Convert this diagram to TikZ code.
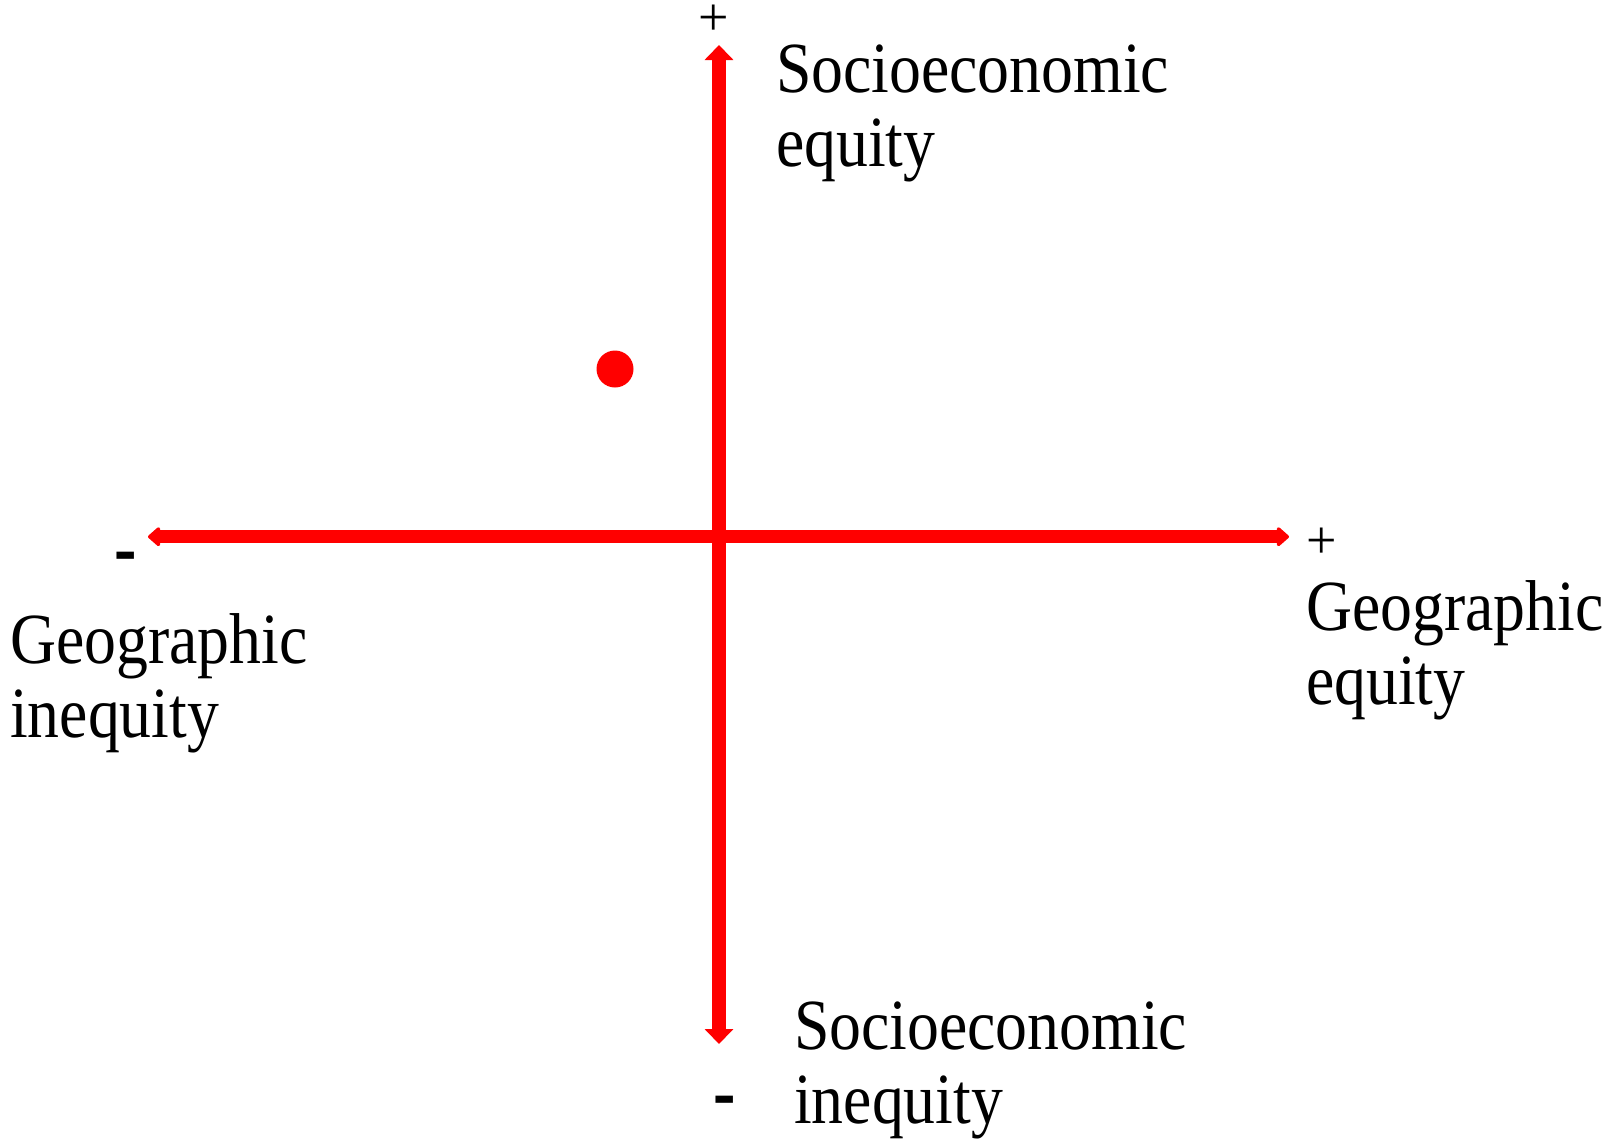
\documentclass[tikz,border=0pt]{standalone}
\usepackage{fontspec}
\setmainfont{Liberation Serif}
\newfontfamily\labelfont[FakeStretch=0.885]{Liberation Serif}
\newfontfamily\dashfont[FakeStretch=0.8]{Liberation Serif}
\usetikzlibrary{arrows.meta}
\begin{document}
\begin{tikzpicture}[x=1pt,y=-1pt,
  axis/.style={draw=red, line width=13.4pt},
  lab/.style={font=\labelfont\fontsize{72}{74}\selectfont, align=left, inner sep=0pt, anchor=base west},
  plussign/.style={font=\fontsize{54}{54}\selectfont, inner sep=0pt},
  minussign/.style={font=\dashfont\bfseries\fontsize{84}{84}\selectfont, inner sep=0pt}]
\useasboundingbox (0,0) rectangle (1614,1138);
% axis end points
\coordinate (L) at (148,536.7);
\coordinate (R) at (1289,536.7);
\coordinate (T) at (719,45);
\coordinate (B) at (719,1044);
\draw[axis, {Triangle[width=22pt,length=13pt,round]}-{Triangle[width=22pt,length=13pt,round]}] (L) -- (R);
\draw[axis, {Triangle[width=28pt,length=15pt]}-{Triangle[width=28pt,length=15pt]}] (B) -- (T);
% point
\node[circle, fill=red, minimum size=37pt, inner sep=0pt] (dot) at (615,369) {};
% labels (anchor = baseline of the last line)
\node[lab] (top) at (776,166) {Socioeconomic\\equity};
\node[lab] (left) at (10,737) {Geographic\\inequity};
\node[lab] (right) at (1306,704) {Geographic\\equity};
\node[lab] (bottom) at (794,1123) {Socioeconomic\\inequity};
% signs
\node[plussign] (ptop) at (713.3,20.5) {+};
\node[plussign] (pright) at (1321.5,543) {+};
\node[minussign] (mleft) at (125.5,564) {-};
\node[minussign] (mbottom) at (725,1108) {-};
\end{tikzpicture}
\end{document}
